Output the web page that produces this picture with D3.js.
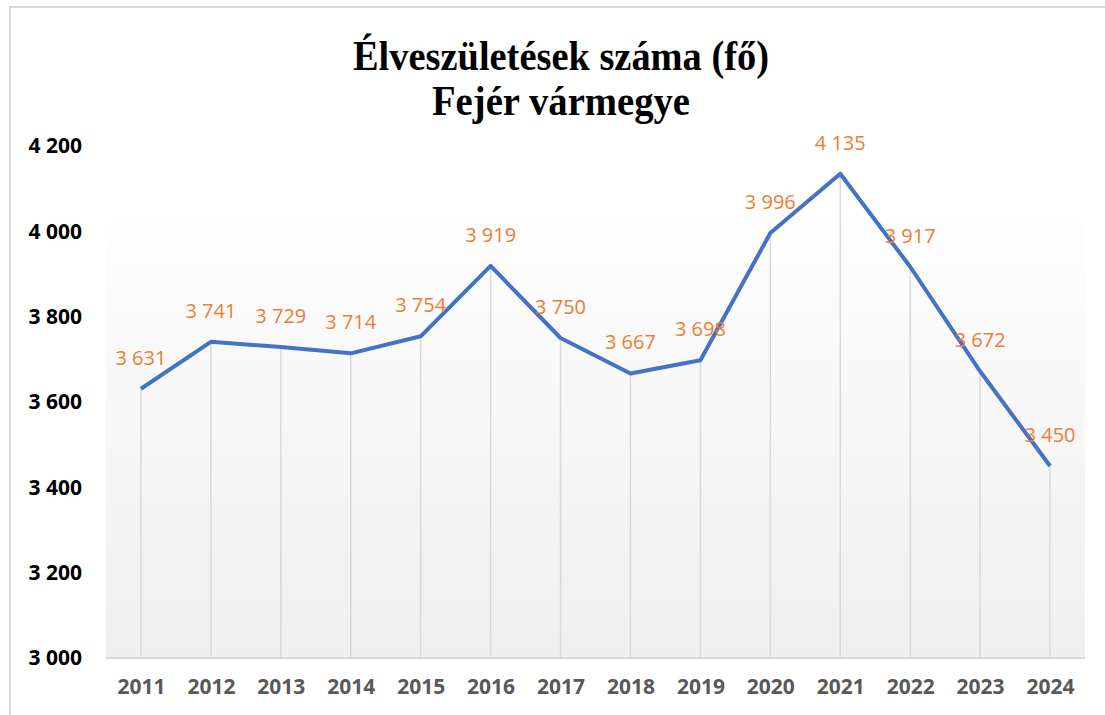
<!DOCTYPE html>
<meta charset="utf-8">
<style>
    body { margin: 0; background: #fff; }
    .title { font-family: "Liberation Serif", "Times New Roman", serif; font-weight: bold; font-size: 42px; fill: #000; }
    .ylab text { font-family: "Open Sans", sans-serif; font-weight: 700; font-size: 21px; fill: #000; }
    .xlab text { font-family: "Open Sans", sans-serif; font-weight: 700; font-size: 21px; fill: #595959; }
    .dlabel { font-family: "Open Sans", sans-serif; font-size: 20px; fill: #ED7D31; }
</style>
<body>
<script src="https://cdn.jsdelivr.net/npm/d3@7"></script>
<script>
// data
var years = ["2011", "2012", "2013", "2014", "2015", "2016", "2017", "2018", "2019", "2020", "2021", "2022", "2023", "2024"];
var births = [3631, 3741, 3729, 3714, 3754, 3919, 3750, 3667, 3698, 3996, 4135, 3917, 3672, 3450];
var yTicks = [3000, 3200, 3400, 3600, 3800, 4000, 4200];
var titleLines = ["Élveszületések száma (fő)", "Fejér vármegye"];

var W = 1105, H = 715;
// plot area
var plotLeft = 106, plotRight = 1085, plotTop = 146, plotBottom = 658;

var fmt = function (v) { return d3.format(",")(v).replace(/,/g, " "); };

var svg = d3.select("body").append("svg")
    .attr("width", W)
    .attr("height", H);

// chart border (only top / left visible in the window)
svg.append("rect")
    .attr("x", 10).attr("y", 7)
    .attr("width", W + 20).attr("height", H + 20)
    .attr("fill", "#fff")
    .attr("stroke", "#d9d9d9")
    .attr("stroke-width", 2);

// scales
var x = d3.scalePoint().domain(years).range([plotLeft, plotRight]).padding(0.5);
var y = d3.scaleLinear().domain([3000, 4200]).range([plotBottom, plotTop]);

// gradient background
var grad = svg.append("defs").append("linearGradient")
    .attr("id", "bg").attr("x1", 0).attr("y1", 0).attr("x2", 0).attr("y2", 1);
grad.append("stop").attr("offset", "0%").attr("stop-color", "#fefefe");
grad.append("stop").attr("offset", "100%").attr("stop-color", "#efefef");

svg.append("rect")
    .attr("x", plotLeft).attr("y", 213)
    .attr("width", plotRight - plotLeft).attr("height", plotBottom - 213)
    .attr("fill", "url(#bg)");

// title
var titleWidths = [416, 258];
svg.selectAll(".title")
    .data(titleLines)
    .enter().append("text")
    .attr("class", "title")
    .attr("x", 561)
    .attr("y", function (d, i) { return 70 + i * 45; })
    .attr("text-anchor", "middle")
    .attr("textLength", function (d, i) { return titleWidths[i]; })
    .attr("lengthAdjust", "spacingAndGlyphs")
    .text(function (d) { return d; });

// drop lines
svg.selectAll(".drop")
    .data(births)
    .enter().append("line")
    .attr("x1", function (d, i) { return x(years[i]); })
    .attr("x2", function (d, i) { return x(years[i]); })
    .attr("y1", function (d) { return y(d); })
    .attr("y2", plotBottom)
    .attr("stroke", "#d9d9d9")
    .attr("stroke-width", 1.5);

// x axis
var xAxis = svg.append("g")
    .attr("class", "xlab")
    .attr("transform", "translate(0," + plotBottom + ")")
    .call(d3.axisBottom(x).tickSize(0).tickPadding(21));
xAxis.select(".domain").attr("stroke", "#d9d9d9").attr("stroke-width", 2)
    .attr("d", "M" + plotLeft + ",0H" + plotRight);

// y axis (labels only)
var yAxis = svg.append("g")
    .attr("class", "ylab")
    .attr("transform", "translate(" + 82 + ",0)")
    .call(d3.axisLeft(y).tickValues(yTicks).tickSize(0).tickPadding(0).tickFormat(fmt));
yAxis.select(".domain").remove();

// line
var line = d3.line()
    .x(function (d, i) { return x(years[i]); })
    .y(function (d) { return y(d); });

svg.append("path")
    .datum(births)
    .attr("fill", "none")
    .attr("stroke", "#4472C4")
    .attr("stroke-width", 4)
    .attr("stroke-linejoin", "round")
    .attr("d", line);

// data labels
svg.selectAll(".dlabel")
    .data(births)
    .enter().append("text")
    .attr("class", "dlabel")
    .attr("x", function (d, i) { return x(years[i]); })
    .attr("y", function (d) { return y(d) - 31; })
    .attr("dy", "0.35em")
    .attr("text-anchor", "middle")
    .text(fmt);
</script>
</body>
